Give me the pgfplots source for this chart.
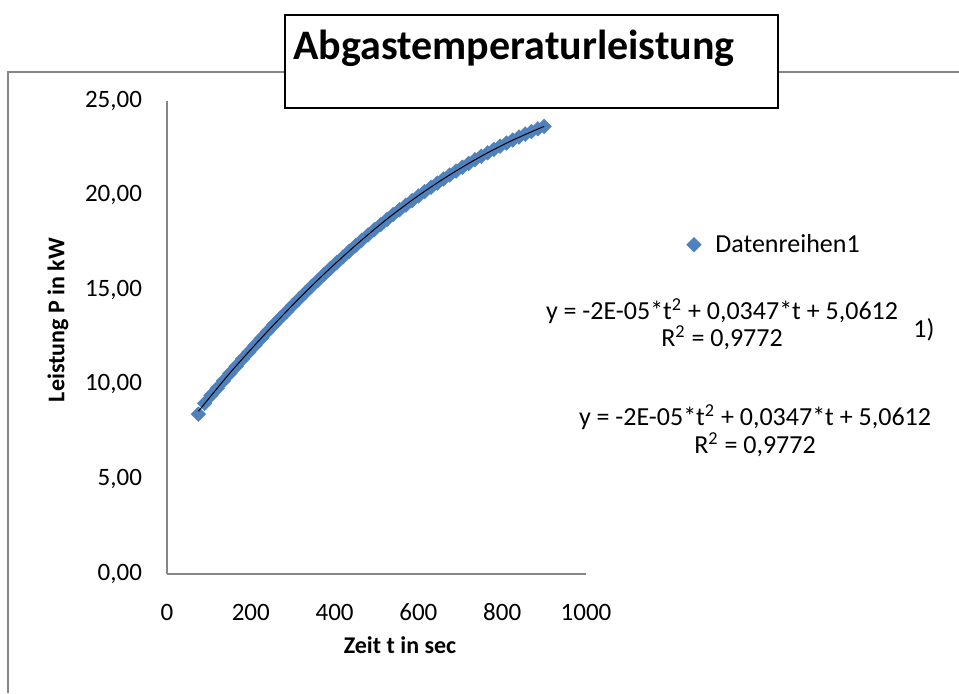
\documentclass[border=0pt]{standalone}
\usepackage{pgfplots}
\pgfplotsset{compat=1.18}
\usepackage{fontspec}
\setmainfont{Carlito}
\definecolor{xlblue}{RGB}{79,129,189}
\definecolor{axgray}{RGB}{134,134,134}
\begin{document}
\begin{tikzpicture}
\begin{scope}[x=0.5pt,y=-0.5pt]
\useasboundingbox (0,0) rectangle (959,693);
\draw[axgray, line width=1pt] (8,693) -- (8,72) -- (959,72);
\end{scope}
\begin{axis}[
  set layers,
  at={(83.5pt,-287pt)}, anchor=south west,
  scale only axis, width=209.5pt, height=236.5pt,
  xmin=0, xmax=1000, ymin=0, ymax=25,
  axis lines*=left,
  axis line style={axgray, line width=0.8pt, -},
  xtick={0,200,...,1000}, ytick={0,5,...,25},
  major tick length=0pt,
  typeset ticklabels with strut,
  tick label style={font=\fontsize{12.5}{15}\selectfont, /pgf/number format/assume math mode=true},
  yticklabel style={/pgf/number format/fixed, /pgf/number format/fixed zerofill, /pgf/number format/precision=2, /pgf/number format/use comma, xshift=-9pt},
  xticklabel style={/pgf/number format/1000 sep={}, yshift=-9pt},
  clip=false,
  legend style={at={(1.225,0.696)}, anchor=west, draw=none, fill=none, font=\fontsize{13}{15}\selectfont, legend cell align=left, /tikz/every odd column/.append style={column sep=5pt}},
]
\addplot[only marks, mark=square*, mark size=2.6pt, mark options={rotate=45, fill=xlblue, draw=xlblue, line width=0.2pt}] coordinates {
(75,8.45) (90,9.02) (105,9.45) (120,9.82) (135,10.22) (150,10.60) (165,10.98) (180,11.36) (195,11.72) (210,12.09)
(225,12.45) (240,12.82) (255,13.18) (270,13.52) (285,13.86) (300,14.20) (315,14.54) (330,14.87) (345,15.20) (360,15.52)
(375,15.84) (390,16.15) (405,16.46) (420,16.76) (435,17.06) (450,17.35) (465,17.64) (480,17.92) (495,18.20) (510,18.47)
(525,18.74) (540,19.00) (555,19.25) (570,19.50) (585,19.74) (600,19.98) (615,20.21) (630,20.44) (645,20.66) (660,20.88)
(675,21.09) (690,21.30) (705,21.50) (720,21.70) (735,21.89) (750,22.08) (765,22.26) (780,22.44) (795,22.61) (810,22.78)
(825,22.94) (840,23.10) (855,23.25) (870,23.39) (885,23.53) (900,23.66)
};
\addlegendentry{Datenreihen1}
\addplot[black, line width=0.5pt, smooth, forget plot, on layer=axis foreground] coordinates {
(75,8.60) (150,10.62) (225,12.47) (300,14.22) (375,15.86) (450,17.37) (525,18.76) (600,20.00) (675,21.10) (750,22.08) (825,22.93) (900,23.66)
};
\end{axis}
\begin{scope}[x=0.5pt,y=-0.5pt]
\draw[black, line width=1pt, fill=white] (285,15) rectangle (778,108);
\node[font=\bfseries\fontsize{21}{25}\selectfont] at (514,48) {Abgastemperaturleistung};
\node[font=\bfseries\fontsize{12}{14}\selectfont] at (400,645) {Zeit t in sec};
\node[rotate=90, font=\bfseries\fontsize{12}{14}\selectfont] at (58,320) {Leistung P in kW};
\node[font=\fontsize{13}{15}\selectfont] at (722,311) {y = -2E-05*t\textsuperscript{2} + 0,0347*t + 5,0612};
\node[font=\fontsize{13}{15}\selectfont] at (722,338) {R\textsuperscript{2} = 0,9772};
\node[font=\fontsize{13}{15}\selectfont] at (924,330) {1)};
\node[font=\fontsize{13}{15}\selectfont] at (755,417) {y = -2E-05*t\textsuperscript{2} + 0,0347*t + 5,0612};
\node[font=\fontsize{13}{15}\selectfont] at (755,445) {R\textsuperscript{2} = 0,9772};
\end{scope}
\end{tikzpicture}
\end{document}
